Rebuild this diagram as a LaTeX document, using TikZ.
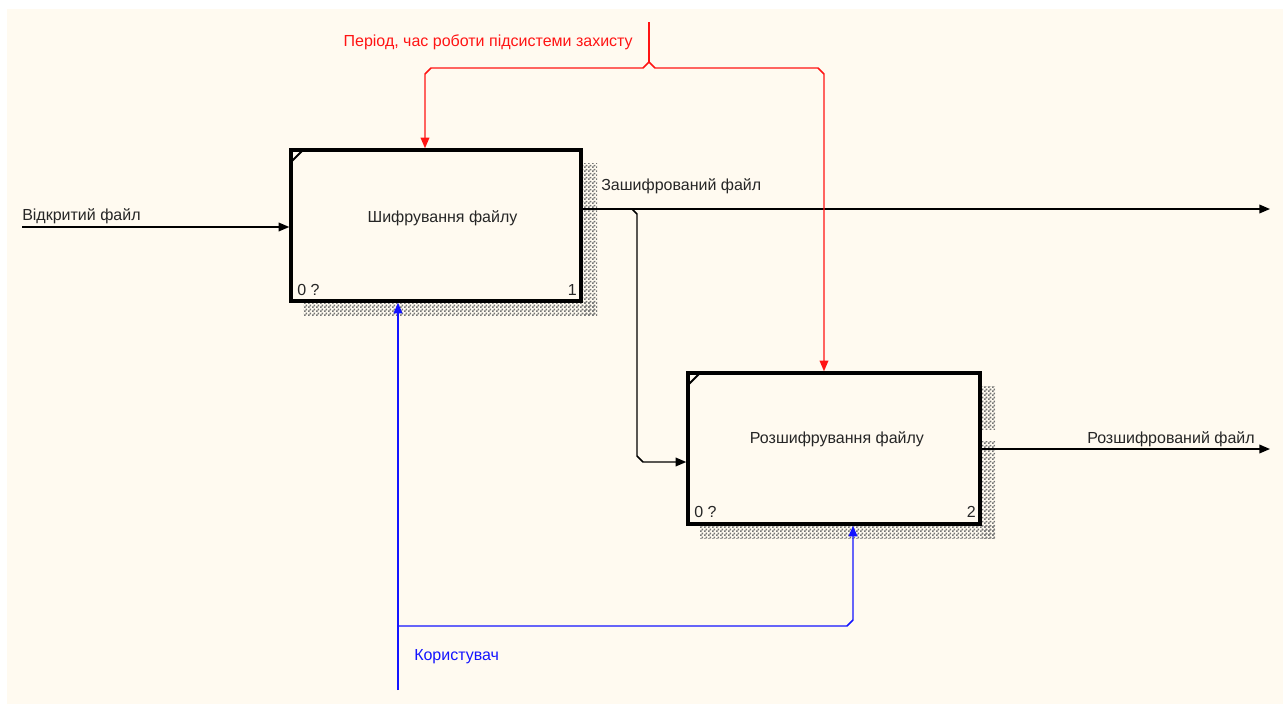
\documentclass[tikz,border=0pt]{standalone}
\usepackage{fontspec}
\setmainfont{Liberation Sans}
\usetikzlibrary{arrows.meta,patterns}
\definecolor{paper}{RGB}{255,250,240}
\definecolor{ctrlred}{RGB}{255,20,20}
\definecolor{mechblue}{RGB}{20,20,255}
% checkerboard hatch used for the box shadows
\pgfdeclarepatternformonly{checkers}{\pgfpointorigin}{\pgfqpoint{3pt}{3pt}}{\pgfqpoint{3pt}{3pt}}{%
  \pgfpathrectangle{\pgfpointorigin}{\pgfqpoint{1.5pt}{1.5pt}}%
  \pgfpathrectangle{\pgfqpoint{1.5pt}{1.5pt}}{\pgfqpoint{1.5pt}{1.5pt}}%
  \pgfusepath{fill}}
\tikzset{
  lbl/.style={inner sep=0pt, font=\fontsize{12}{14}\selectfont, text=black!85},
  actbox/.style={draw=black, line width=2.6pt, fill=paper, inner sep=0pt,
    minimum width=217.5pt, minimum height=113.25pt},
  shade/.style={pattern=checkers, pattern color=black!55},
  flow/.style={line width=1.1pt, -{Triangle[length=8pt,width=6.5pt]}},
  plain/.style={line width=1.1pt},
}
\begin{document}
\begin{tikzpicture}[x=0.75pt,y=-0.75pt]
  % page and sheet
  \fill[white] (0,0) rectangle (1283,704);
  \useasboundingbox (0,0) rectangle (1283,704);
  \fill[paper] (7,9) rectangle (1283,704);

  % hatched shadows of the activity boxes
  \fill[shade] (583,163) rectangle (597,315);
  \fill[shade] (303,302) rectangle (597,315);
  \fill[shade] (982,386) rectangle (995,429);
  \fill[shade] (982,441) rectangle (995,538);
  \fill[shade] (700,525) rectangle (995,538);

  % activity boxes
  \node[actbox] (b1) at (436,225.5) {};
  \node[actbox, minimum width=219pt] (b2) at (834,448.5) {};
  \draw[line width=1.5pt] (291,162) -- (303,150);
  \draw[line width=1.5pt] (688,385) -- (700,373);

  \node[lbl, anchor=base] (t1) at (442.5,222) {Шифрування файлу};
  \node[lbl, anchor=base] (t2) at (837,443) {Розшифрування файлу};
  \node[lbl, anchor=base west] (n1a) at (297,295) {0 ?};
  \node[lbl, anchor=base east] (n1b) at (577,295) {1};
  \node[lbl, anchor=base west] (n2a) at (694,517) {0 ?};
  \node[lbl, anchor=base east] (n2b) at (976,517) {2};

  % input
  \coordinate (in1) at (22,227);
  \draw[flow] (in1) -- (in1 -| b1.west);
  \node[lbl, anchor=base west] (lin) at (22,220) {Відкритий файл};

  % outputs
  \coordinate (o1) at (1270,209);
  \draw[flow] (o1 -| b1.east) -- (o1);
  \node[lbl, anchor=base west] (lo1) at (601,190) {Зашифрований файл};
  \coordinate (br) at (632,209);
  \draw[flow] (br) -- (637,214) -- (637,456) -- (643,462) -- (b2.west |- 0,462);

  \coordinate (o2) at (1270,449);
  \draw[flow] (o2 -| b2.east) -- (o2);
  \node[lbl, anchor=base east] (lo2) at (1255,443) {Розшифрований файл};

  % control
  \coordinate (ctop) at (649,22);
  \coordinate (cj) at (649,62);
  \draw[plain, draw=ctrlred] (ctop) -- (cj);
  \draw[flow, draw=ctrlred] (cj) -- (643,68) -- (431,68) -- (425,74) -- (b1.north -| 425,0);
  \draw[flow, draw=ctrlred] (cj) -- (655,68) -- (818,68) -- (824,74) -- (b2.north -| 824,0);
  \node[lbl, anchor=base east, text=ctrlred] (lc) at (633,46) {Період, час роботи підсистеми захисту};

  % mechanism
  \coordinate (mbot) at (398,690);
  \draw[flow, draw=mechblue] (mbot) -- (b1.south -| 398,0);
  \draw[flow, draw=mechblue] (398,626) -- (847,626) -- (853,620) -- (b2.south -| 853,0);
  \node[lbl, anchor=base west, text=mechblue] (lm) at (414,660) {Користувач};
\end{tikzpicture}
\end{document}
